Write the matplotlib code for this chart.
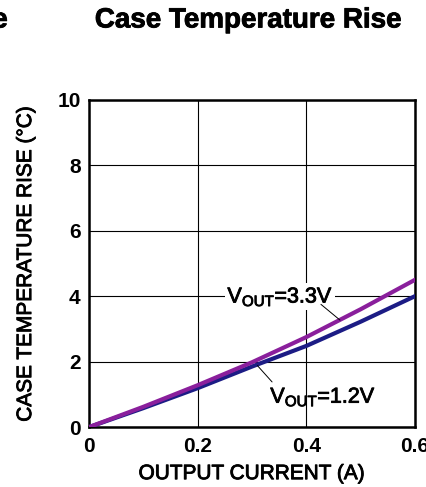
import numpy as np
import matplotlib.pyplot as plt
import matplotlib.patheffects as pe

plt.rcParams['font.family'] = ['Liberation Sans', 'DejaVu Sans']
plt.rcParams['mathtext.fontset'] = 'custom'
plt.rcParams['mathtext.rm'] = 'Liberation Sans'

# données
courant = [0.0, 0.1, 0.2, 0.3, 0.4, 0.5, 0.6]
temp_33 = [0.0, 0.62, 1.28, 1.98, 2.75, 3.6, 4.5]
temp_12 = [0.0, 0.58, 1.19, 1.85, 2.48, 3.22, 4.0]

xticks = [0, 0.2, 0.4, 0.6]
xlabels = ['0', '0.2', '0.4', '0.6']
yticks = [0, 2, 4, 6, 8, 10]

# un peu plus gras, comme le rendu du PDF d'origine
gras = [pe.withStroke(linewidth=0.6, foreground='black')]

fig = plt.figure(figsize=(4.26, 4.87), dpi=100)
ax = fig.add_axes([0.209, 0.123, 0.765, 0.672])

ax.plot(courant, temp_12, color='#1c1c85', lw=3, zorder=3)
ax.plot(courant, temp_33, color='#8a1f9c', lw=3, zorder=4)

ax.set_xlim(0, 0.6)
ax.set_ylim(0, 10)
ax.set_xticks(xticks)
ax.set_xticklabels(xlabels)
ax.set_yticks(yticks)
ax.grid(True, color='black', lw=0.8)
ax.tick_params(length=0, labelsize=15)
ax.tick_params(axis='y', pad=6)
ax.tick_params(axis='x', pad=7)
for lab in ax.get_xticklabels() + ax.get_yticklabels():
    lab.set_fontweight('bold')
for s in ax.spines.values():
    s.set_linewidth(1.8)

ax.set_xlabel('OUTPUT CURRENT (A)', fontsize=15, labelpad=6, path_effects=gras)
ax.set_ylabel('CASE TEMPERATURE RISE (°C)', fontsize=15, labelpad=16, path_effects=gras)

# étiquettes des courbes
ax.text(0.352, 3.98, r'V$_{\mathregular{OUT}}$=3.3V', fontsize=15.5, ha='center', va='center',
        bbox=dict(boxstyle='square,pad=0.1', fc='white', ec='none'), zorder=5,
        path_effects=gras)
ax.annotate('', xy=(0.462, 3.27), xytext=(0.427, 3.75),
            arrowprops=dict(arrowstyle='-', color='black', lw=0.7, shrinkA=0, shrinkB=0),
            zorder=6)
ax.text(0.431, 0.92, r'V$_{\mathregular{OUT}}$=1.2V', fontsize=15.5, ha='center', va='center',
        zorder=5, path_effects=gras)
ax.annotate('', xy=(0.31, 1.88), xytext=(0.337, 1.38),
            arrowprops=dict(arrowstyle='-', color='black', lw=0.7, shrinkA=0, shrinkB=0))

fig.text(0.582, 0.958, 'Case Temperature Rise', fontsize=20, fontweight='bold',
         ha='center', va='center', path_effects=gras)
fig.text(0.0, 0.958, 'e', fontsize=20, fontweight='bold', ha='center', va='center',
         path_effects=gras)

fig.savefig('out.png', dpi=100)
